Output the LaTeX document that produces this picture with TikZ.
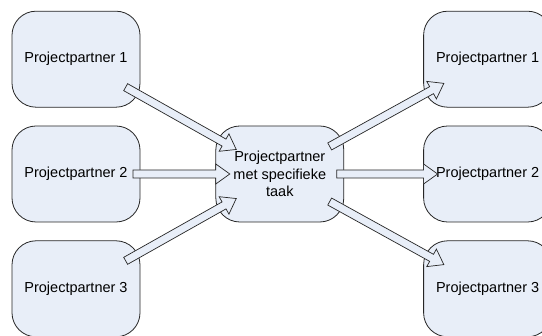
\documentclass[tikz,border=0pt]{standalone}
\usepackage{fontspec}
\setmainfont{Liberation Sans}
\usetikzlibrary{positioning, calc}

\definecolor{vakblauw}{RGB}{232,238,248}

% blokpijl van knoop #1 naar knoop #2
\newcommand{\blokpijl}[2]{%
  \draw[pijl] let \p1=($(#1)!57pt!(#2)$), \p2=($(#2)!50pt!(#1)$), \p3=($(\p2)-(\p1)$),
      \n1={atan2(\y3,\x3)}, \n2={veclen(\x3,\y3)} in
    ($(\p1)+(\n1+90:4pt)$) -- ++(\n1:\n2-14pt) -- ++(\n1+90:6pt) -- (\p2)
    -- ($(\p2)+(\n1+180:14pt)+(\n1-90:10pt)$) -- ++(\n1+90:6pt)
    -- ($(\p1)+(\n1-90:4pt)$) -- cycle;}

\begin{document}
\begin{tikzpicture}[
    x=1pt, y=-1pt,
    node distance=18pt and 75pt,
    every node/.style={font=\fontsize{14.5}{17.5}\selectfont},
    partner/.style={rectangle, rounded corners=24pt, draw=black!85, line width=0.8pt, fill=vakblauw, minimum width=128pt, minimum height=96pt, align=center},
    pijl/.style={draw=black!85, line width=0.7pt, fill=vakblauw, line join=miter}
  ]
  \useasboundingbox (0,0) rectangle (542,336);
  \clip (0,0) rectangle (542,336);
  \fill[white] (0,0) rectangle (542,336);

  % ---------------- Partners links ----------------
  \node (links2) [partner] at (76,174) {Projectpartner 2};
  \node (links1) [partner, above=of links2] {Projectpartner 1};
  \node (links3) [partner, below=of links2] {Projectpartner 3};

  % ---------------- Partner met taak ----------------
  \node (taak) [partner, right=of links2] {Projectpartner\\met specifieke\\taak};

  % ---------------- Partners rechts ----------------
  \node (rechts2) [partner, right=79pt of taak] {Projectpartner 2};
  \node (rechts1) [partner, above=of rechts2] {Projectpartner 1};
  \node (rechts3) [partner, below=of rechts2] {Projectpartner 3};

  % Pijlen
  \blokpijl{links1}{taak}
  \blokpijl{links2}{taak}
  \blokpijl{links3}{taak}
  \blokpijl{taak}{rechts1}
  \blokpijl{taak}{rechts2}
  \blokpijl{taak}{rechts3}

\end{tikzpicture}
\end{document}
